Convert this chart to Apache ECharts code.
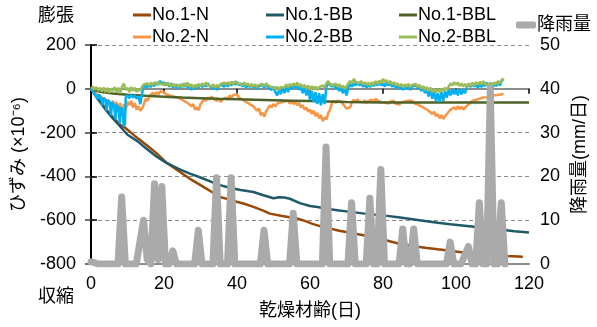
<!DOCTYPE html>
<html>
<head>
<meta charset="utf-8">
<script src="https://cdn.jsdelivr.net/npm/echarts@6/dist/echarts.min.js"></script>
<style>
  html, body { margin: 0; padding: 0; background: #fff; }
  #chart { width: 597px; height: 327px; }
</style>
</head>
<body>
<div id="chart"></div>
<script>
// strain series, [day, x10^-6]
const no1N = [[0,0],[2,-45],[4,-90],[6,-130],[8,-165],[9.3,-177],[12,-215],[15.3,-258],[18,-295],[20.5,-335],[24.4,-380],[27,-410],[30,-440],[33,-470],[35.3,-494],[38,-506],[39.9,-516],[42,-525],[44.5,-539],[47,-555],[49,-570],[52,-580],[56.4,-592],[58,-600],[60.9,-618],[63,-628],[65.5,-638],[68,-648],[71,-657],[75,-670],[80,-688],[84.7,-709],[88,-718],[92,-727],[95,-733],[98.4,-739],[102,-747],[105,-751],[107.5,-755],[110,-758],[114,-763],[118.3,-767]];

const no1BB = [[0,0],[2,-50],[4,-95],[6,-135],[8,-172],[10,-210],[12.8,-240],[15.3,-275],[18,-310],[20.7,-338],[24,-366],[27.1,-387],[30,-405],[33,-425],[35.3,-440],[38,-452],[41,-462],[44.5,-471],[47,-485],[50,-500],[51.5,-495],[53,-496],[54.5,-502],[57.2,-522],[60,-535],[62,-540],[65.5,-550],[68,-556],[71,-562],[75,-570],[80,-578],[84.7,-588],[90,-600],[95,-612],[98.4,-619],[103,-627],[108,-636],[112,-643],[116,-650],[120,-656]];

const no1BBL = [[0,0],[1,-8],[3,-15],[6,-22],[10,-27],[15,-32],[20,-36],[25,-40],[30,-43],[35,-46],[40,-48],[45,-50],[50,-52],[55,-54],[60,-56],[65,-58],[70,-60],[75,-61],[80,-62],[85,-63],[90,-63],[95,-63],[100,-63],[105,-62],[110,-62],[115,-63],[120,-63]];

const no2N = [[0,0],[1,-15],[1.5,-25],[2,-20],[2.5,-35],[3,-30],[3.5,-45],[4,-40],[4.5,-55],[5,-50],[5.5,-75],[6,-55],[6.5,-90],[7,-60],[7.5,-105],[8,-65],[8.5,-120],[9,-70],[9.5,-100],[10,-60],[10.5,-75],[11,-55],[11.5,-85],[12,-65],[12.5,-95],[13,-80],[13.5,-100],[14,-90],[14.5,-70],[15,-45],[15.5,-55],[16,-35],[16.5,-30],[17,-18],[17.5,-28],[18,-15],[18.5,-25],[19,-12],[19.5,-20],[20,-15],[20.5,-25],[21,-18],[21.5,-30],[22,-25],[22.5,-35],[23,-28],[23.5,-40],[24,-35],[24.5,-45],[25,-40],[25.5,-55],[26,-50],[26.5,-65],[27,-60],[27.5,-80],[28,-70],[28.5,-95],[29,-85],[29.5,-98],[30,-70],[30.5,-60],[31,-45],[31.5,-55],[32,-40],[32.5,-50],[33,-35],[33.5,-45],[34,-40],[34.5,-55],[35,-45],[35.5,-60],[36,-50],[36.5,-55],[37,-40],[37.5,-50],[38,-30],[38.5,-40],[39,-28],[39.5,-35],[40,-25],[40.5,-40],[41,-35],[41.5,-50],[42,-45],[42.5,-60],[43,-55],[43.5,-70],[44,-65],[44.5,-80],[45,-75],[45.5,-100],[46,-90],[46.5,-120],[47,-110],[47.5,-128],[48,-100],[48.5,-90],[49,-75],[49.5,-85],[50,-70],[50.5,-80],[51,-68],[51.5,-75],[52,-62],[52.5,-70],[53,-58],[53.5,-65],[54,-55],[54.5,-68],[55,-58],[55.5,-70],[56,-60],[56.5,-75],[57,-65],[57.5,-85],[58,-75],[58.5,-95],[59,-85],[59.5,-105],[60,-95],[60.5,-115],[61,-100],[61.5,-125],[62,-110],[62.5,-135],[63,-120],[63.5,-148],[64,-130],[64.5,-140],[65,-110],[65.5,-95],[66,-65],[66.5,-55],[67,-65],[67.5,-55],[68,-62],[68.5,-58],[69,-70],[69.5,-80],[70,-90],[70.5,-98],[71,-85],[71.5,-60],[72,-50],[72.5,-60],[73,-48],[73.5,-58],[74,-50],[74.5,-62],[75,-52],[75.5,-65],[76,-55],[76.5,-62],[77,-50],[77.5,-60],[78,-45],[78.5,-55],[79,-48],[79.5,-60],[80,-52],[80.5,-62],[81,-55],[81.5,-68],[82,-58],[82.5,-65],[83,-55],[83.5,-68],[84,-60],[84.5,-72],[85,-62],[85.5,-70],[86,-58],[86.5,-65],[87,-55],[87.5,-62],[88,-55],[88.5,-65],[89,-60],[89.5,-72],[90,-68],[90.5,-80],[91,-75],[91.5,-90],[92,-85],[92.5,-100],[93,-95],[93.5,-115],[94,-105],[94.5,-125],[95,-115],[95.5,-135],[96,-120],[96.5,-138],[97,-125],[97.5,-115],[98,-105],[98.5,-95],[99,-100],[99.5,-85],[100,-95],[100.5,-80],[101,-92],[101.5,-82],[102,-95],[102.5,-85],[103,-90],[103.5,-70],[104,-65],[104.5,-55],[105,-60],[105.5,-50],[106,-55],[106.5,-45],[107,-52],[107.5,-40],[108,-48],[108.5,-38],[109,-45],[109.5,-35],[110,-40],[110.5,-30],[111,-38],[111.5,-28],[112,-32],[112.5,-25],[113,-22]];

const no2BB = [[0,0],[0.8,-20],[1.3,-30],[1.8,-48],[2.1,-25],[2.6,-35],[3.1,-75],[3.4,-40],[3.9,-50],[4.3,-100],[4.6,-50],[5.1,-60],[5.5,-120],[5.8,-62],[6.3,-72],[6.7,-140],[7,-72],[7.5,-85],[7.9,-158],[8.2,-85],[8.6,-95],[9,-172],[9.3,-160],[9.5,-40],[10,-30],[10.5,-42],[11,-28],[11.5,-40],[12,-30],[12.5,-45],[13,-35],[13.5,-70],[13.8,-40],[14.3,5],[14.8,15],[15.3,5],[15.8,20],[16.3,8],[16.8,22],[17.3,12],[17.8,28],[18.3,18],[18.9,36],[19.4,20],[19.9,30],[20.4,15],[21,28],[21.5,10],[22,25],[22.5,5],[23,20],[23.5,0],[24,18],[24.5,5],[25,22],[25.5,8],[26,25],[26.5,5],[27,20],[27.5,-5],[28,15],[28.5,0],[29,18],[29.5,5],[30,20],[30.5,8],[31,22],[31.5,10],[32,25],[32.5,12],[33,20],[33.5,0],[34,15],[34.5,-5],[35,12],[35.5,5],[36,18],[36.5,8],[37,25],[37.5,10],[38,28],[38.5,15],[39,30],[39.5,18],[40,32],[40.5,15],[41,25],[41.5,10],[42,22],[42.5,5],[43,20],[43.5,8],[44,18],[44.5,5],[45,15],[45.5,0],[46,12],[46.5,5],[47,18],[47.5,5],[48,20],[48.5,8],[49,15],[49.5,-5],[50,10],[50.5,-15],[51,-30],[51.5,-5],[52,-25],[52.5,5],[53,-20],[53.5,10],[54,-15],[54.5,12],[55,0],[55.5,18],[56,5],[56.5,20],[57,-5],[57.5,10],[58,-20],[58.5,5],[59,-30],[59.5,0],[60,-50],[60.5,-10],[61,-60],[61.5,-15],[62,-70],[62.5,-20],[63,-75],[63.5,-25],[64,-70],[64.5,10],[65,25],[65.5,31],[66,10],[66.5,20],[67,0],[67.5,15],[68,-10],[68.5,5],[69,-20],[69.5,0],[70,-30],[70.5,5],[71,20],[71.5,10],[72,25],[72.5,15],[73,30],[73.5,15],[74,25],[74.5,10],[75,20],[75.5,5],[76,18],[76.5,8],[77,25],[77.5,12],[78,28],[78.5,15],[79,30],[79.5,15],[80,25],[80.5,10],[81,30],[81.5,15],[82,25],[82.5,10],[83,20],[83.5,5],[84,18],[84.5,0],[85,12],[85.5,-5],[86,10],[86.5,0],[87,15],[87.5,-5],[88,10],[88.5,5],[89,18],[89.5,0],[90,12],[90.5,-10],[91,8],[91.5,-20],[92,0],[92.5,-35],[93,-5],[93.5,-45],[94,-10],[94.5,-55],[95,-20],[95.5,-60],[96,-15],[96.5,-55],[97,-10],[97.5,-40],[98,-5],[98.5,-30],[99,0],[99.5,-25],[100,-5],[100.5,-30],[101,0],[101.5,-25],[102,-5],[102.5,-20],[103,10],[103.5,20],[104,8],[104.5,25],[105,10],[105.5,22],[106,5],[106.5,20],[107,8],[107.5,25],[108,12],[108.5,28],[109,10],[109.5,20],[110,5],[110.5,25],[111,12],[111.5,30],[112,15],[112.5,35],[113,46]];

const no2BBL = [[0,0],[0.5,10],[1,-5],[1.5,8],[2,-10],[2.5,5],[3,-12],[3.5,6],[4,-15],[4.5,4],[5,-18],[5.5,2],[6,-10],[6.5,8],[7,-15],[7.5,5],[8,-20],[8.5,10],[9,24],[9.5,-5],[10,5],[10.5,-15],[11,8],[11.5,-10],[12,5],[12.5,-15],[13,0],[13.5,-10],[14,10],[14.5,20],[15,12],[15.5,25],[16,15],[16.5,28],[17,18],[17.5,30],[18,20],[18.5,32],[19,22],[19.5,30],[20,18],[20.5,28],[21,15],[21.5,25],[22,12],[22.5,22],[23,10],[23.5,20],[24,8],[24.5,20],[25,10],[25.5,25],[26,12],[26.5,28],[27,10],[27.5,20],[28,5],[28.5,18],[29,8],[29.5,22],[30,12],[30.5,25],[31,15],[31.5,28],[32,18],[32.5,25],[33,10],[33.5,20],[34,5],[34.5,18],[35,8],[35.5,22],[36,15],[36.5,28],[37,18],[37.5,30],[38,20],[38.5,32],[39,22],[39.5,34],[40,36],[40.5,22],[41,30],[41.5,18],[42,28],[42.5,15],[43,25],[43.5,12],[44,22],[44.5,10],[45,20],[45.5,8],[46,18],[46.5,10],[47,22],[47.5,12],[48,25],[48.5,15],[49,20],[49.5,8],[50,15],[50.5,0],[51,10],[51.5,-5],[52,8],[52.5,15],[53,5],[53.5,20],[54,8],[54.5,22],[55,12],[55.5,25],[56,15],[56.5,28],[57,12],[57.5,22],[58,5],[58.5,18],[59,0],[59.5,15],[60,-5],[60.5,12],[61,0],[61.5,10],[62,-5],[62.5,8],[63,0],[63.5,15],[64,5],[64.5,25],[65,35],[65.5,22],[66,30],[66.5,15],[67,25],[67.5,10],[68,20],[68.5,5],[69,15],[69.5,0],[70,12],[70.5,25],[71,35],[71.5,25],[72,45],[72.5,30],[73,38],[73.5,25],[74,35],[74.5,20],[75,30],[75.5,18],[76,28],[76.5,15],[77,30],[77.5,20],[78,35],[78.5,22],[79,38],[79.5,25],[80,45],[80.5,30],[81,40],[81.5,25],[82,35],[82.5,20],[83,30],[83.5,15],[84,25],[84.5,12],[85,22],[85.5,8],[86,20],[86.5,10],[87,22],[87.5,8],[88,18],[88.5,10],[89,22],[89.5,8],[90,18],[90.5,0],[91,12],[91.5,-5],[92,8],[92.5,-10],[93,5],[93.5,-15],[94,0],[94.5,-18],[95,-2],[95.5,-15],[96,0],[96.5,-10],[97,5],[97.5,-5],[98,10],[98.5,25],[99,15],[99.5,30],[100,18],[100.5,28],[101,12],[101.5,25],[102,10],[102.5,22],[103,8],[103.5,25],[104,12],[104.5,28],[105,15],[105.5,30],[106,18],[106.5,32],[107,20],[107.5,35],[108,22],[108.5,30],[109,18],[109.5,28],[110,15],[110.5,30],[111,20],[111.5,35],[112,25],[112.5,40],[113,48]];

// rainfall, [day, mm/day]
const rain = [[0,0.5],[1,0.3],[2,0],[7.4,0],[8.4,15.3],[9.4,0],[12.4,0],[13.4,5],[14.4,10],[15.4,1],[16.4,0],[17.4,18.3],[18.4,1],[19.4,17.7],[20.4,0],[21.4,0],[22.4,3],[23.4,0],[28.4,0],[29.4,7.7],[30.4,0],[33.4,0],[34.4,19.7],[35.4,0],[37.4,0],[38.4,19.7],[39.4,0],[46.4,0],[47.4,7.7],[48.4,0],[54.4,0],[55.4,11.6],[56.4,0],[63.4,0],[64.4,26.7],[65.4,0],[70.4,0],[71.4,14],[72.4,0],[75.4,0],[76.4,15],[77.4,0],[78.4,0],[79.4,21.6],[80.4,0],[84.4,0],[85.4,8],[86.4,0],[87.4,0],[88.4,8],[89.4,0],[97.4,0],[98.4,5],[99.4,0],[101.4,0],[102.4,2],[103.4,4],[104.4,0],[105.4,0],[106.4,14],[107.4,0],[108.4,0],[109.4,40],[110.4,0],[111.4,0],[112.4,14],[113.4,0]];

const FONT = "'Liberation Sans', 'Noto Sans CJK JP', sans-serif";
const colors = {
  "No.1-N": "#984807",
  "No.1-BB": "#215968",
  "No.1-BBL": "#4F6228",
  "No.2-N": "#F79646",
  "No.2-BB": "#00B0F0",
  "No.2-BBL": "#9BBB59",
  "降雨量": "#AAAAAA",
};

function strainLine(name, data) {
  return {
    name,
    type: "line",
    data,
    showSymbol: false,
    symbol: "none",
    lineStyle: { color: colors[name], width: 2.5 },
    itemStyle: { color: colors[name] },
    animation: false,
  };
}

function legendCol(names, left) {
  return {
    data: names,
    orient: "vertical",
    left,
    top: 1,
    itemWidth: 18,
    itemHeight: 3,
    itemGap: 4,
    icon: "rect",
    textStyle: { fontFamily: FONT, fontSize: 18, color: "#000", padding: [0, 0, 0, -4] },
    selectedMode: false,
  };
}

const chart = echarts.init(document.getElementById("chart"));
chart.setOption({
  backgroundColor: "#fff",
  animation: false,
  textStyle: { fontFamily: FONT },
  grid: { left: 91, right: 68, top: 45, bottom: 63 },
  legend: [
    legendCol(["No.1-N", "No.2-N"], 128),
    legendCol(["No.1-BB", "No.2-BB"], 261),
    legendCol(["No.1-BBL", "No.2-BBL"], 394),
    {
      data: ["降雨量"],
      left: 511,
      top: 11,
      itemWidth: 20,
      itemHeight: 7,
      icon: "roundRect",
      textStyle: { fontFamily: FONT, fontSize: 18, color: "#000", padding: [0, 0, 0, -4] },
      selectedMode: false,
    },
  ],
  xAxis: [
    {
      type: "value",
      min: 0,
      max: 120,
      interval: 20,
      name: "乾燥材齢(日)",
      nameLocation: "middle",
      nameGap: 38,
      nameTextStyle: { fontFamily: FONT, fontSize: 18, color: "#000" },
      axisLine: { onZero: false, lineStyle: { color: "#8c8c8c", width: 2 } },
      axisTick: { show: false },
      axisLabel: { fontFamily: FONT, fontSize: 18, color: "#000", margin: 11 },
      splitLine: { show: false },
    },
    {
      type: "value",
      min: 0,
      max: 120,
      interval: 20,
      position: "bottom",
      axisLine: { onZero: true, onZeroAxisIndex: 0, lineStyle: { color: "#8c8c8c", width: 2 } },
      axisTick: { show: true, length: 5, lineStyle: { color: "#000", width: 1.5 } },
      axisLabel: { show: false },
      splitLine: { show: false },
    },
  ],
  yAxis: [
    {
      type: "value",
      min: -800,
      max: 200,
      interval: 200,
      name: "ひずみ (×10⁻⁶)",
      nameLocation: "middle",
      nameRotate: 90,
      nameGap: 63,
      nameTextStyle: { fontFamily: FONT, fontSize: 18, color: "#000" },
      axisLine: { show: true, lineStyle: { color: "#404040", width: 2 } },
      axisTick: { show: true, length: 6, lineStyle: { color: "#404040", width: 1.5 } },
      axisLabel: { fontFamily: FONT, fontSize: 18, color: "#000", margin: 15 },
      splitLine: { show: true, lineStyle: { color: "#8c8c8c", type: [4, 3], width: 1.2 } },
    },
    {
      type: "value",
      min: 0,
      max: 50,
      interval: 10,
      position: "right",
      name: "降雨量(mm/日)",
      nameLocation: "middle",
      nameRotate: 90,
      nameGap: 40,
      nameTextStyle: { fontFamily: FONT, fontSize: 18, color: "#000" },
      axisLine: { show: true, lineStyle: { color: "#000", width: 2 } },
      axisTick: { show: true, length: 6, lineStyle: { color: "#000", width: 1.5 } },
      axisLabel: { fontFamily: FONT, fontSize: 18, color: "#000", margin: 11 },
      splitLine: { show: false },
    },
  ],
  graphic: [
    { type: "text", left: 38, top: 7, style: { text: "膨張", font: "18px " + FONT, fill: "#000" } },
    { type: "text", left: 38, top: 288, style: { text: "収縮", font: "18px " + FONT, fill: "#000" } },
  ],
  series: [
    strainLine("No.1-N", no1N),
    strainLine("No.1-BB", no1BB),
    strainLine("No.2-N", no2N),
    strainLine("No.1-BBL", no1BBL),
    strainLine("No.2-BB", no2BB),
    strainLine("No.2-BBL", no2BBL),
    {
      name: "降雨量",
      type: "line",
      yAxisIndex: 1,
      data: rain,
      showSymbol: false,
      symbol: "none",
      lineStyle: { color: colors["降雨量"], width: 7, join: "round", cap: "round" },
      itemStyle: { color: colors["降雨量"] },
      z: 3,
    },
  ],
});
</script>
</body>
</html>
